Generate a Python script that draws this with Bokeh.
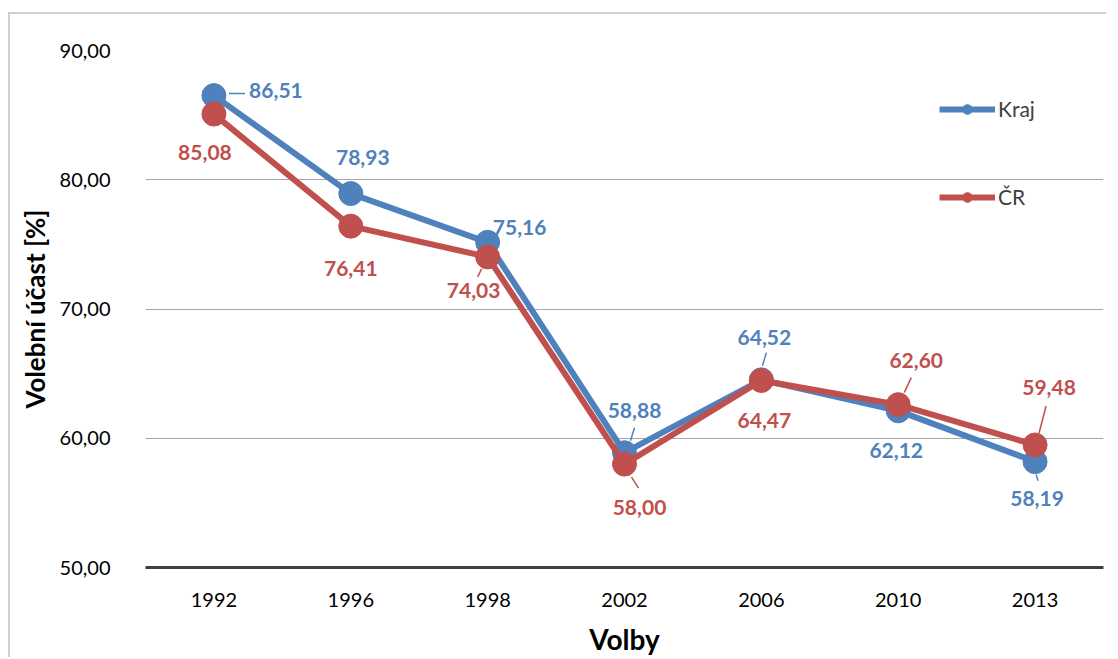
from bokeh.plotting import figure
from bokeh.models import Range1d, FixedTicker, Grid, Legend, LegendItem, Title
from bokeh.core.properties import value
from bokeh.embed import file_html
from bokeh.resources import INLINE

years = ["1992", "1996", "1998", "2002", "2006", "2010", "2013"]
kraj = [86.51, 78.93, 75.16, 58.88, 64.52, 62.12, 58.19]
cr = [85.08, 76.41, 74.03, 58.00, 64.47, 62.60, 59.48]
y_ticks = [50, 60, 70, 80, 90]
y_tick_labels = ["50,00", "60,00", "70,00", "80,00", "90,00"]

BLUE = "#4F81BD"
RED = "#C0504D"
FONT = "Lato"

# label offsets (screen px, +y down)
k_dx = [62, 12, 32, 10, 3, -2, 2]
k_dy = [-5, -36, -15, -42, -42, 40, 37]
r_dx = [-9, 0, -14, 15, 3, 18, 14]
r_dy = [38, 42, 34, 43, 40, -44, -57]
# leader line offsets (screen px): start (sx, sy) -> end (ex, ey)
nan = float("nan")
k_lead = [(15, -2, 31, -2), None, None, (6, -12, 10, -25), (1, -14, 5, -27), None, (1, 13, 3, 19)]
r_lead = [None, None, (-6, 12, -10, 20), (7, 13, 14, 24), None, (6, -12, 13, -27), (4, -12, 11, -39)]

W, H = 1098, 645
p = figure(width=W, height=H, output_backend="svg", toolbar_location=None,
           x_range=Range1d(-0.5, 6.5), y_range=Range1d(50, 90),
           min_border_left=134, min_border_right=5, min_border_top=36, min_border_bottom=92)
p.styles = {"border-left": "2px solid #D0D0D0", "border-top": "2px solid #D0D0D0",
            "margin-top": "12px", "margin-left": "8px"}
p.outline_line_color = None
p.background_fill_color = "white"

# grids
p.xgrid.visible = False
p.ygrid.ticker = FixedTicker(ticks=[60, 70, 80])
p.ygrid.grid_line_color = "#A6A6A6"
p.ygrid.grid_line_width = 1
p.add_layout(Grid(dimension=1, ticker=FixedTicker(ticks=[90]), grid_line_color="#D9D9D9", grid_line_width=1))

# axes
xa = p.xaxis[0]
xa.ticker = FixedTicker(ticks=list(range(len(years))))
xa.major_label_overrides = {i: y for i, y in enumerate(years)}
xa.axis_line_color = "#404040"
xa.axis_line_width = 3
xa.major_tick_line_color = None
xa.minor_tick_line_color = None
xa.major_label_text_font = FONT
xa.major_label_text_font_size = "20px"
xa.major_label_text_color = "#000000"
xa.major_label_standoff = 19
xa.axis_label = "Volby"
xa.axis_label_text_font = FONT
xa.axis_label_text_font_style = "bold"
xa.axis_label_text_font_size = "28px"
xa.axis_label_text_color = "#000000"
xa.axis_label_standoff = 12

ya = p.yaxis[0]
ya.ticker = FixedTicker(ticks=y_ticks)
ya.major_label_overrides = {t: l for t, l in zip(y_ticks, y_tick_labels)}
ya.axis_line_color = None
ya.major_tick_line_color = None
ya.minor_tick_line_color = None
ya.major_label_text_font = FONT
ya.major_label_text_font_size = "20px"
ya.major_label_text_color = "#000000"
ya.major_label_standoff = 29

ytitle = Title(text="Volební účast [%]", align="center", standoff=12,
               text_font=FONT, text_font_style="bold", text_font_size="26px",
               text_color="#000000")
p.add_layout(ytitle, "left")

xs = list(range(len(years)))
PXX = (1103 - 146) / 7.0
PXY = (567 - 50) / 40.0

def lead_arrays(vals, leads):
    x0, y0, x1, y1 = [], [], [], []
    for i, (v, l) in enumerate(zip(vals, leads)):
        if l is None:
            x0.append(nan); y0.append(nan); x1.append(nan); y1.append(nan)
        else:
            x0.append(i + l[0] / PXX); y0.append(v - l[1] / PXY)
            x1.append(i + l[2] / PXX); y1.append(v - l[3] / PXY)
    return x0, y0, x1, y1

# Kraj series
kl = p.line(xs, kraj, line_color=BLUE, line_width=6)
km = p.scatter(xs, kraj, size=24, fill_color=BLUE, line_color=BLUE)
# ČR series
rl = p.line(xs, cr, line_color=RED, line_width=6)
rm = p.scatter(xs, cr, size=24, fill_color=RED, line_color=RED)

# leaders
x0, y0, x1, y1 = lead_arrays(kraj, k_lead)
p.segment(x0, y0, x1, y1, line_color=BLUE, line_width=1.5)
x0, y0, x1, y1 = lead_arrays(cr, r_lead)
p.segment(x0, y0, x1, y1, line_color=RED, line_width=1.5)

fmt = lambda v: f"{v:.2f}".replace(".", ",")
p.text(xs, kraj, text=[fmt(v) for v in kraj], x_offset=k_dx, y_offset=k_dy,
       text_color=BLUE, text_font=value(FONT), text_font_style="bold", text_font_size="21px",
       text_align="center", text_baseline="middle")
p.text(xs, cr, text=[fmt(v) for v in cr], x_offset=r_dx, y_offset=r_dy,
       text_color=RED, text_font=value(FONT), text_font_style="bold", text_font_size="21px",
       text_align="center", text_baseline="middle")

# legend renderers (small markers)
lk = p.scatter([nan], [nan], size=11, fill_color=BLUE, line_color=BLUE)
lr = p.scatter([nan], [nan], size=11, fill_color=RED, line_color=RED)
legend = Legend(items=[LegendItem(label="Kraj", renderers=[kl, lk]),
                       LegendItem(label="ČR", renderers=[rl, lr])],
                location=(794, 358), padding=0, margin=0, spacing=63,
                glyph_width=56, glyph_height=24, label_height=24, label_standoff=3,
                label_text_font=FONT, label_text_font_size="21px", label_text_color="#404040",
                background_fill_alpha=0, border_line_alpha=0)
p.add_layout(legend)

open("out.html", "w").write(file_html(p, INLINE))
